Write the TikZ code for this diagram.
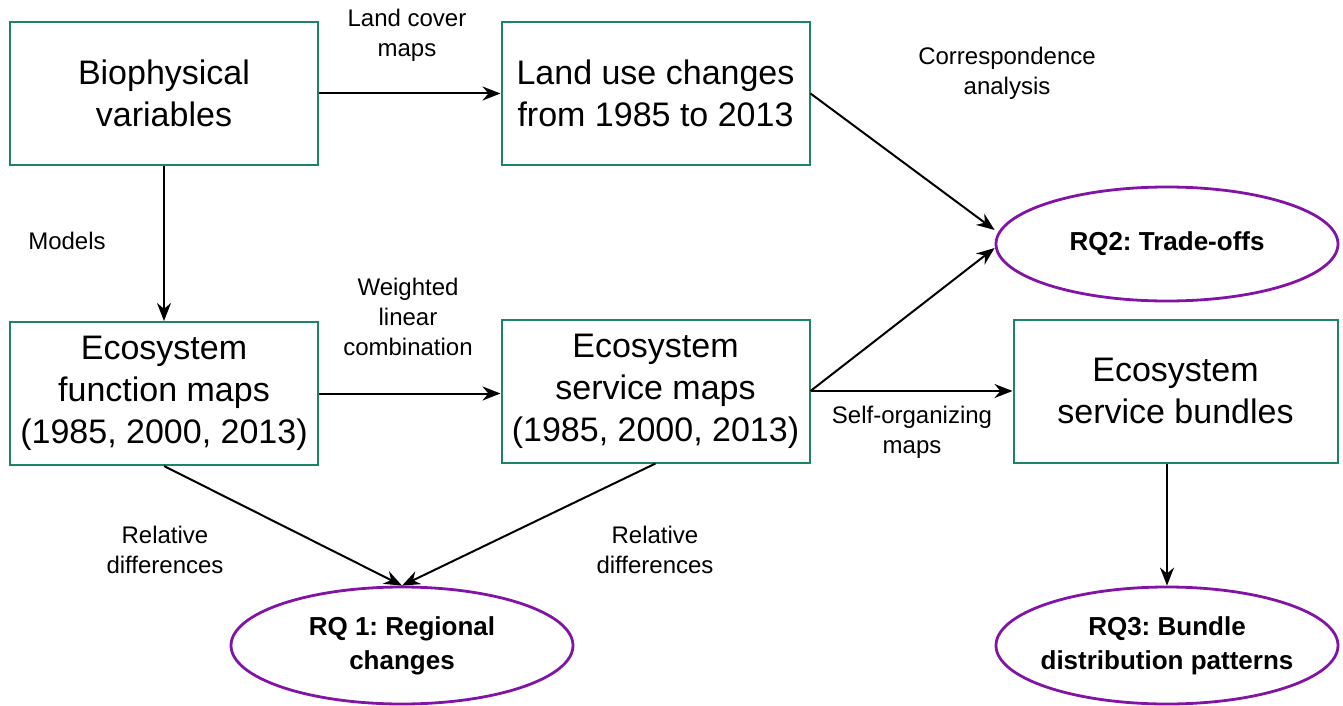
\documentclass[tikz,border=0pt]{standalone}
\usepackage{fontspec}
\setmainfont{Liberation Sans}
\usetikzlibrary{arrows.meta,shapes.geometric}
\frenchspacing

\definecolor{boxgreen}{RGB}{30,132,104}
\definecolor{rqpurple}{RGB}{130,20,165}

\begin{document}
\begin{tikzpicture}[x=0.5pt,y=-0.5pt,
  box/.style={draw=boxgreen, line width=1pt, inner sep=0pt, align=center,
    minimum width=154pt, minimum height=71.5pt, font=\fontsize{17}{21}\selectfont},
  rq/.style={draw=rqpurple, line width=1.4pt, ellipse, inner sep=0pt, align=center,
    minimum width=171pt, minimum height=57pt, font=\fontsize{13}{17}\selectfont\bfseries},
  lbl/.style={align=center, inner sep=0pt, font=\fontsize{12}{15}\selectfont},
  arr/.style={-{Stealth[length=9pt,width=7pt]}, line width=1pt}]

\useasboundingbox (0,0) rectangle (1343,706);

% Define boxes
\node[box] (bio) at (164,93.5) {Biophysical\\variables};
\node[box] (landuse) at (655.5,93.5) {Land use changes\\from 1985 to 2013};
\node[box] (efm) at (164,393.5) {Ecosystem\\function maps\\(1985, 2000, 2013)};
\node[box] (esm) at (655.5,391) {Ecosystem\\service maps\\(1985, 2000, 2013)};
\node[box, minimum width=162pt] (bundles) at (1175.5,391) {Ecosystem\\service bundles};

% Research questions
\node[rq] (rq2) at (1167,244) {RQ2: Trade-offs};
\node[rq, minimum height=58.5pt] (rq1) at (402,645.5) {RQ 1: Regional\\changes};
\node[rq, minimum height=58.5pt, inner xsep=-6pt] (rq3) at (1167,645.5) {RQ3: Bundle\\distribution patterns};

% Draw arrows
\draw[arr] (bio.east) -- (landuse.west);
\draw[arr] (bio.south) -- (efm.north);
\draw[arr] (efm.east) -- (esm.west |- efm.east);
\draw[arr] (landuse.east) -- ([yshift=7pt]rq2.west);
\draw[arr] (esm.east) -- ([yshift=-2pt]rq2.west);
\draw[arr] (esm.east) -- (bundles.west);
\draw[arr] (efm.south) -- (rq1.north);
\draw[arr] (esm.south) -- (rq1.north);
\draw[arr] (bundles.south -| rq3.north) -- (rq3.north);

% Arrow labels
\node[lbl] (lcover) at (407,35) {Land cover\\maps};
\node[lbl] (corresp) at (1007,73) {Correspondence\\analysis};
\node[lbl] (models) at (67,241) {Models};
\node[lbl] (weighted) at (408,317) {Weighted\\linear\\combination};
\node[lbl] (som) at (912,432) {Self-organizing\\maps};
\node[lbl] (reldiff1) at (165,550) {Relative\\differences};
\node[lbl] (reldiff2) at (655,550) {Relative\\differences};

\end{tikzpicture}
\end{document}
